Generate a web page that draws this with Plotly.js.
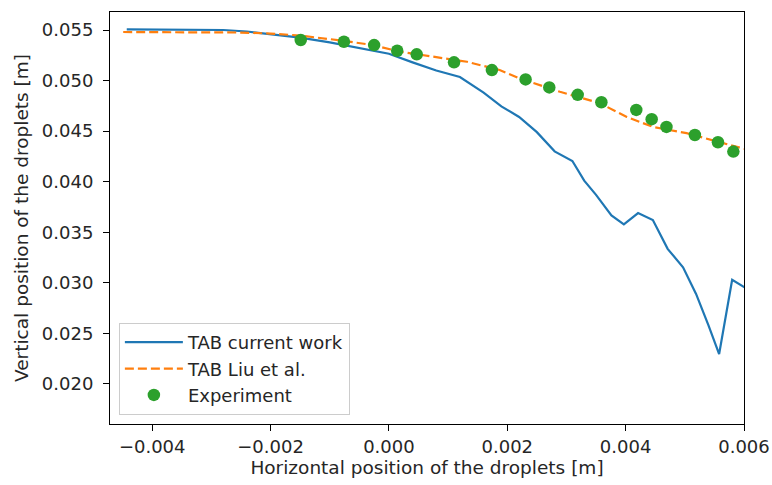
<!DOCTYPE html>
<html>
<head>
<meta charset="utf-8">
<script src="https://cdn.plot.ly/plotly-3.0.1.min.js"></script>
<style>html,body{margin:0;padding:0;background:#fff;}#chart{width:772px;height:485px;}</style>
</head>
<body>
<div id="chart"></div>
<script>
// Data
const tabCurrentX = [-0.00443, -0.0035, -0.0028, -0.0024, -0.0020, -0.0015, -0.0010, -0.0005, 0.0, 0.0004, 0.0008, 0.0012, 0.0016, 0.0019, 0.0022, 0.0025, 0.0028, 0.0031, 0.0033, 0.0035, 0.00376, 0.00397, 0.00421, 0.00446, 0.00471, 0.00497, 0.00519, 0.00540, 0.00558, 0.00580, 0.00601];
const tabCurrentY = [0.05507, 0.05506, 0.05500, 0.05485, 0.05460, 0.05425, 0.05378, 0.05325, 0.05265, 0.05180, 0.05100, 0.05035, 0.04880, 0.04745, 0.04640, 0.04490, 0.04300, 0.04205, 0.04010, 0.03870, 0.03667, 0.03577, 0.03690, 0.03620, 0.03336, 0.03154, 0.02890, 0.02580, 0.02296, 0.03030, 0.02956];

const tabLiuX = [-0.00449, -0.0035, -0.0025, -0.0020, -0.0015, -0.00078, -0.00027, 0.00019, 0.0006, 0.00132, 0.00187, 0.00221, 0.00289, 0.00356, 0.00402, 0.00446, 0.00503, 0.00588, 0.0060];
const tabLiuY = [0.05480, 0.05480, 0.05475, 0.05465, 0.05445, 0.05394, 0.05351, 0.05285, 0.05250, 0.05186, 0.05104, 0.05020, 0.04889, 0.04777, 0.04640, 0.04542, 0.04480, 0.04343, 0.04325];

const expX = [-0.00149, -0.00076, -0.00025, 0.00014, 0.00047, 0.0011, 0.00174, 0.00231, 0.00271, 0.00319, 0.00359, 0.00418, 0.00444, 0.00469, 0.00517, 0.00556, 0.00582];
const expY = [0.05401, 0.05384, 0.05351, 0.05295, 0.05259, 0.05180, 0.05104, 0.05011, 0.04932, 0.04859, 0.04786, 0.04710, 0.04618, 0.04542, 0.04462, 0.04390, 0.04298];

const xTicks = [-0.004, -0.002, 0.000, 0.002, 0.004, 0.006];
const yTicks = [0.020, 0.025, 0.030, 0.035, 0.040, 0.045, 0.050, 0.055];

const font = {family: 'DejaVu Sans, sans-serif', size: 18, color: '#262626'};
const titleFont = {family: 'DejaVu Sans, sans-serif', size: 18.5, color: '#262626'};

const traces = [
  {x: tabCurrentX, y: tabCurrentY, mode: 'lines', name: 'TAB current work',
   line: {color: '#1f77b4', width: 2.2}},
  {x: tabLiuX, y: tabLiuY, mode: 'lines', name: 'TAB Liu et al.',
   line: {color: '#ff7f0e', width: 2.2, dash: '9px,4px'}},
  {x: expX, y: expY, mode: 'markers', name: 'Experiment',
   marker: {color: '#2ca02c', size: 12.5}}
];

const axisCommon = {
  showline: true, mirror: true, linecolor: '#000', linewidth: 1,
  ticks: 'outside', ticklen: 6, tickwidth: 1, tickcolor: '#000',
  showgrid: false, zeroline: false, tickfont: font
};

const layout = {
  width: 772, height: 485,
  margin: {l: 110, r: 28, t: 12, b: 61},
  paper_bgcolor: '#fff', plot_bgcolor: '#fff',
  font: font,
  showlegend: true,
  legend: {x: 0.014, y: 0.022, xanchor: 'left', yanchor: 'bottom',
           bordercolor: '#cccccc', borderwidth: 1, bgcolor: 'rgba(255,255,255,0.8)',
           tracegroupgap: 0, itemwidth: 58,
           font: font},
  xaxis: Object.assign({}, axisCommon, {
    range: [-0.004713, 0.006], tickvals: xTicks, tickformat: '.3f',
    ticklabelstandoff: 0,
    title: {text: 'Horizontal position of the droplets [m]', font: titleFont, standoff: 4}
  }),
  yaxis: Object.assign({}, axisCommon, {
    range: [0.01604, 0.05678], tickvals: yTicks, tickformat: '.3f',
    ticklabelstandoff: 6,
    title: {text: 'Vertical position of the droplets [m]', font: titleFont, standoff: 8}
  })
};

Plotly.newPlot('chart', traces, layout, {displayModeBar: false, staticPlot: true});
</script>
</body>
</html>
